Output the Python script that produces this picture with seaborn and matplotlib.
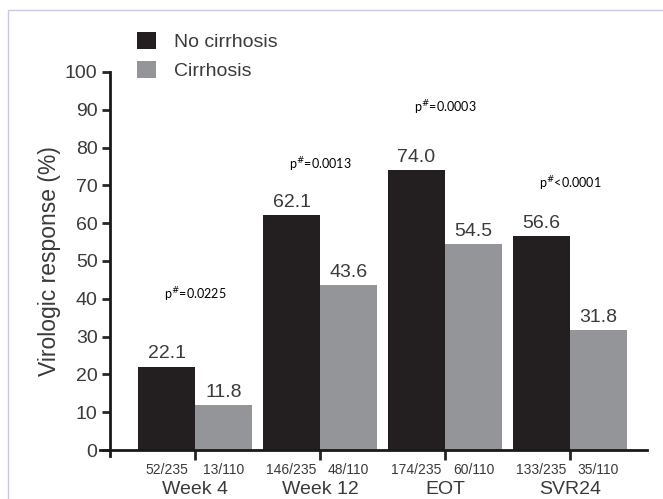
import numpy as np
import pandas as pd
import seaborn as sns
import matplotlib.pyplot as plt
from matplotlib.patches import Rectangle

timepoints = ['Week 4', 'Week 12', 'EOT', 'SVR24']
groups = ['No cirrhosis', 'Cirrhosis']
no_cirrhosis = [22.1, 62.1, 74.0, 56.6]
cirrhosis = [11.8, 43.6, 54.5, 31.8]
counts_no = ['52/235', '146/235', '174/235', '133/235']
counts_cir = ['13/110', '48/110', '60/110', '35/110']
p_labels = ['=0.0225', '=0.0013', '=0.0003', '<0.0001']
p_heights = [41, 75.5, 90.5, 70.5]

df = pd.DataFrame({
    'time': timepoints * 2,
    'group': [groups[0]] * 4 + [groups[1]] * 4,
    'value': no_cirrhosis + cirrhosis,
})

sns.set_style('ticks')
plt.rcParams['font.family'] = ['Liberation Sans', 'DejaVu Sans']

fig = plt.figure(figsize=(6.63, 4.99), dpi=100)
ax = fig.add_axes([100 / 663, 0.098, 547 / 663, 0.758])

sns.barplot(data=df, x='time', y='value', hue='group', order=timepoints,
            hue_order=groups, palette=['#231f20', '#939598'], width=0.91,
            gap=0, saturation=1, linewidth=0, ax=ax, legend=True)

txt = '#3a3a3a'
for cont in ax.containers:
    ax.bar_label(cont, fmt='%.1f', padding=3, fontsize=14, color=txt)

for i, (p, h) in enumerate(zip(p_labels, p_heights)):
    ax.text(i, h, r'p$^{\#}$' + p, ha='center', va='center', fontsize=9,
            family=['Lato', 'DejaVu Sans'], color='black')

ax.set_ylim(0, 100)
ax.set_xlim(-0.76, 3.616)
ax.set_yticks(range(0, 101, 10))
ax.set_ylabel('Virologic response (%)', fontsize=16.5, color=txt, labelpad=3)
ax.set_xlabel('')

ax.spines['left'].set_position(('data', -0.68))
ax.spines['left'].set_bounds(-1.5, 100)
ax.spines['top'].set_visible(False)
ax.spines['right'].set_visible(False)
for s in ['left', 'bottom']:
    ax.spines[s].set_linewidth(2)
    ax.spines[s].set_color('#1a1a1a')

ax.set_xticks(range(4))
ax.set_xticklabels(timepoints, fontsize=14, color=txt)
ax.tick_params(axis='x', which='major', length=7, width=2, pad=15)
ax.tick_params(axis='y', length=6, width=2, labelsize=14, labelcolor=txt, pad=3)

bar_w = 0.91 / 2
minor_pos = []
minor_lab = []
for i in range(4):
    minor_pos += [i - bar_w / 2, i + bar_w / 2]
    minor_lab += [counts_no[i], counts_cir[i]]
ax.set_xticks(minor_pos, minor=True)
ax.set_xticklabels(minor_lab, minor=True, fontsize=10, color=txt)
ax.tick_params(axis='x', which='minor', length=0, pad=9)

leg = ax.legend(loc='upper left', bbox_to_anchor=(137 / 663, 1 - 32 / 499),
                bbox_transform=fig.transFigure, frameon=False, fontsize=14,
                handlelength=1.0, handleheight=1.0, handletextpad=0.9,
                labelspacing=0.5, borderpad=0, borderaxespad=0)
for t in leg.get_texts():
    t.set_color(txt)

fig.patches.append(Rectangle((8 / 663, -0.1), 1.2, 1 - 10 / 499 + 0.1,
                             transform=fig.transFigure, fill=False,
                             edgecolor='#c8c8e6', linewidth=1))

fig.savefig('out.png', dpi=100)
